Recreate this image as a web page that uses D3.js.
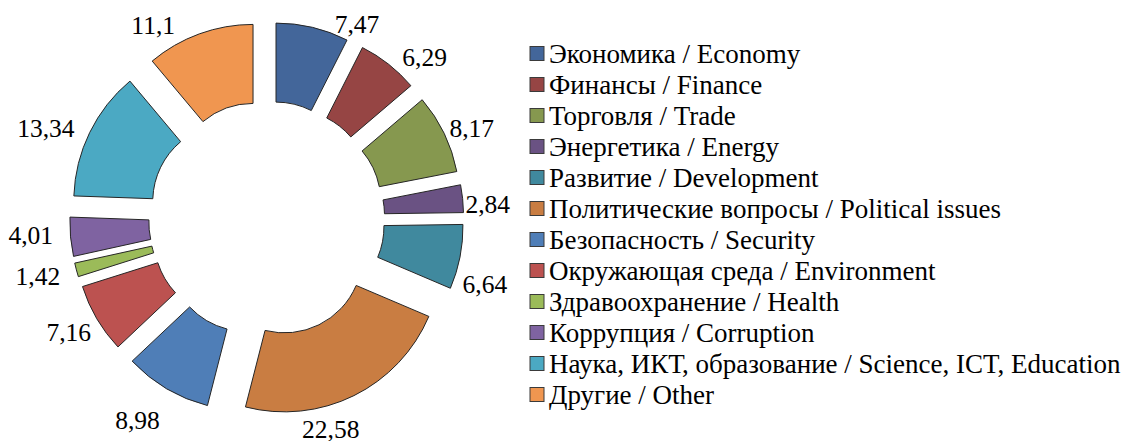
<!DOCTYPE html>
<html>
<head>
<meta charset="utf-8">
<script src="https://cdn.jsdelivr.net/npm/d3@7"></script>
<style>
  html, body { margin: 0; padding: 0; background: #ffffff; }
  svg { display: block; }
</style>
</head>
<body>
<svg id="chart" width="1124" height="441"></svg>
<script>
// ---- data ----
const categories = [
  "Экономика / Economy",
  "Финансы / Finance",
  "Торговля / Trade",
  "Энергетика / Energy",
  "Развитие / Development",
  "Политические вопросы / Political issues",
  "Безопасность / Security",
  "Окружающая среда / Environment",
  "Здравоохранение / Health",
  "Коррупция / Corruption",
  "Наука, ИКТ, образование / Science, ICT, Education",
  "Другие / Other"
];
const values = [7.47, 6.29, 8.17, 2.84, 6.64, 22.58, 8.98, 7.16, 1.42, 4.01, 13.34, 11.1];
const valueLabels = ["7,47", "6,29", "8,17", "2,84", "6,64", "22,58", "8,98", "7,16", "1,42", "4,01", "13,34", "11,1"];

// ---- style ----
const FONT = "'Liberation Serif'";
const colors = ["#43669A", "#964544", "#86984F", "#6A5283", "#40899E", "#C97D42",
                "#4F7EB7", "#BC5250", "#9BBB59", "#7F63A1", "#4BA9C3", "#F09650"];
// label placement tweaks relative to slice mid-angle (degrees) and base radius (px)
const labelAngleShift = [11.5, 6.1, 2, 2.1, 5.7, 9.4, 2.2, 0.7, 0.8, 1.1, -3.8, -10.4];
const labelRadiusShift = [-14, -2, -4, -6.5, 0, -7.5, 11, 0, 8, 8.5, 10.5, -3.5];

const cx = 266.7, cy = 219;
const innerR = 78, outerR = 157, explode = 40, labelR = 228;
const labelFont = 25.5, legendFont = 27;

const svg = d3.select("#chart");
const g = svg.append("g").attr("transform", `translate(${cx},${cy})`);

const pie = d3.pie().sort(null).value(d => d).startAngle(0).endAngle(2 * Math.PI);
const arc = d3.arc().innerRadius(innerR).outerRadius(outerR);
const arcs = pie(values);

g.selectAll("path.slice")
  .data(arcs)
  .join("path")
  .attr("class", "slice")
  .attr("d", arc)
  .attr("transform", d => {
    const m = (d.startAngle + d.endAngle) / 2;
    return `translate(${explode * Math.sin(m)},${-explode * Math.cos(m)})`;
  })
  .attr("fill", (d, i) => colors[i])
  .attr("stroke", "#262626")
  .attr("stroke-width", 1);

g.selectAll("text.lbl")
  .data(arcs)
  .join("text")
  .attr("class", "lbl")
  .style("font-family", FONT)
  .attr("font-size", labelFont)
  .attr("fill", "#000")
  .attr("text-anchor", "middle")
  .attr("x", (d, i) => {
    const a = (d.startAngle + d.endAngle) / 2 + labelAngleShift[i] * Math.PI / 180;
    return (labelR + labelRadiusShift[i]) * Math.sin(a);
  })
  .attr("y", (d, i) => {
    const a = (d.startAngle + d.endAngle) / 2 + labelAngleShift[i] * Math.PI / 180;
    return -(labelR + labelRadiusShift[i]) * Math.cos(a) + 8.5;
  })
  .text((d, i) => valueLabels[i]);

// ---- legend ----
const legendY = d3.scalePoint().domain(categories).range([53.5, 394.5]);
const leg = svg.append("g");
const rows = leg.selectAll("g.row").data(categories).join("g").attr("class", "row")
  .attr("transform", d => `translate(530,${legendY(d)})`);
rows.append("rect")
  .attr("x", 0).attr("y", -7).attr("width", 14).attr("height", 14)
  .attr("fill", (d, i) => colors[i])
  .attr("stroke", "#3a3a3a").attr("stroke-width", 1);
rows.append("text")
  .attr("x", 19).attr("y", 9)
  .style("font-family", FONT)
  .attr("font-size", legendFont)
  .attr("fill", "#000")
  .text(d => d);
</script>
</body>
</html>
